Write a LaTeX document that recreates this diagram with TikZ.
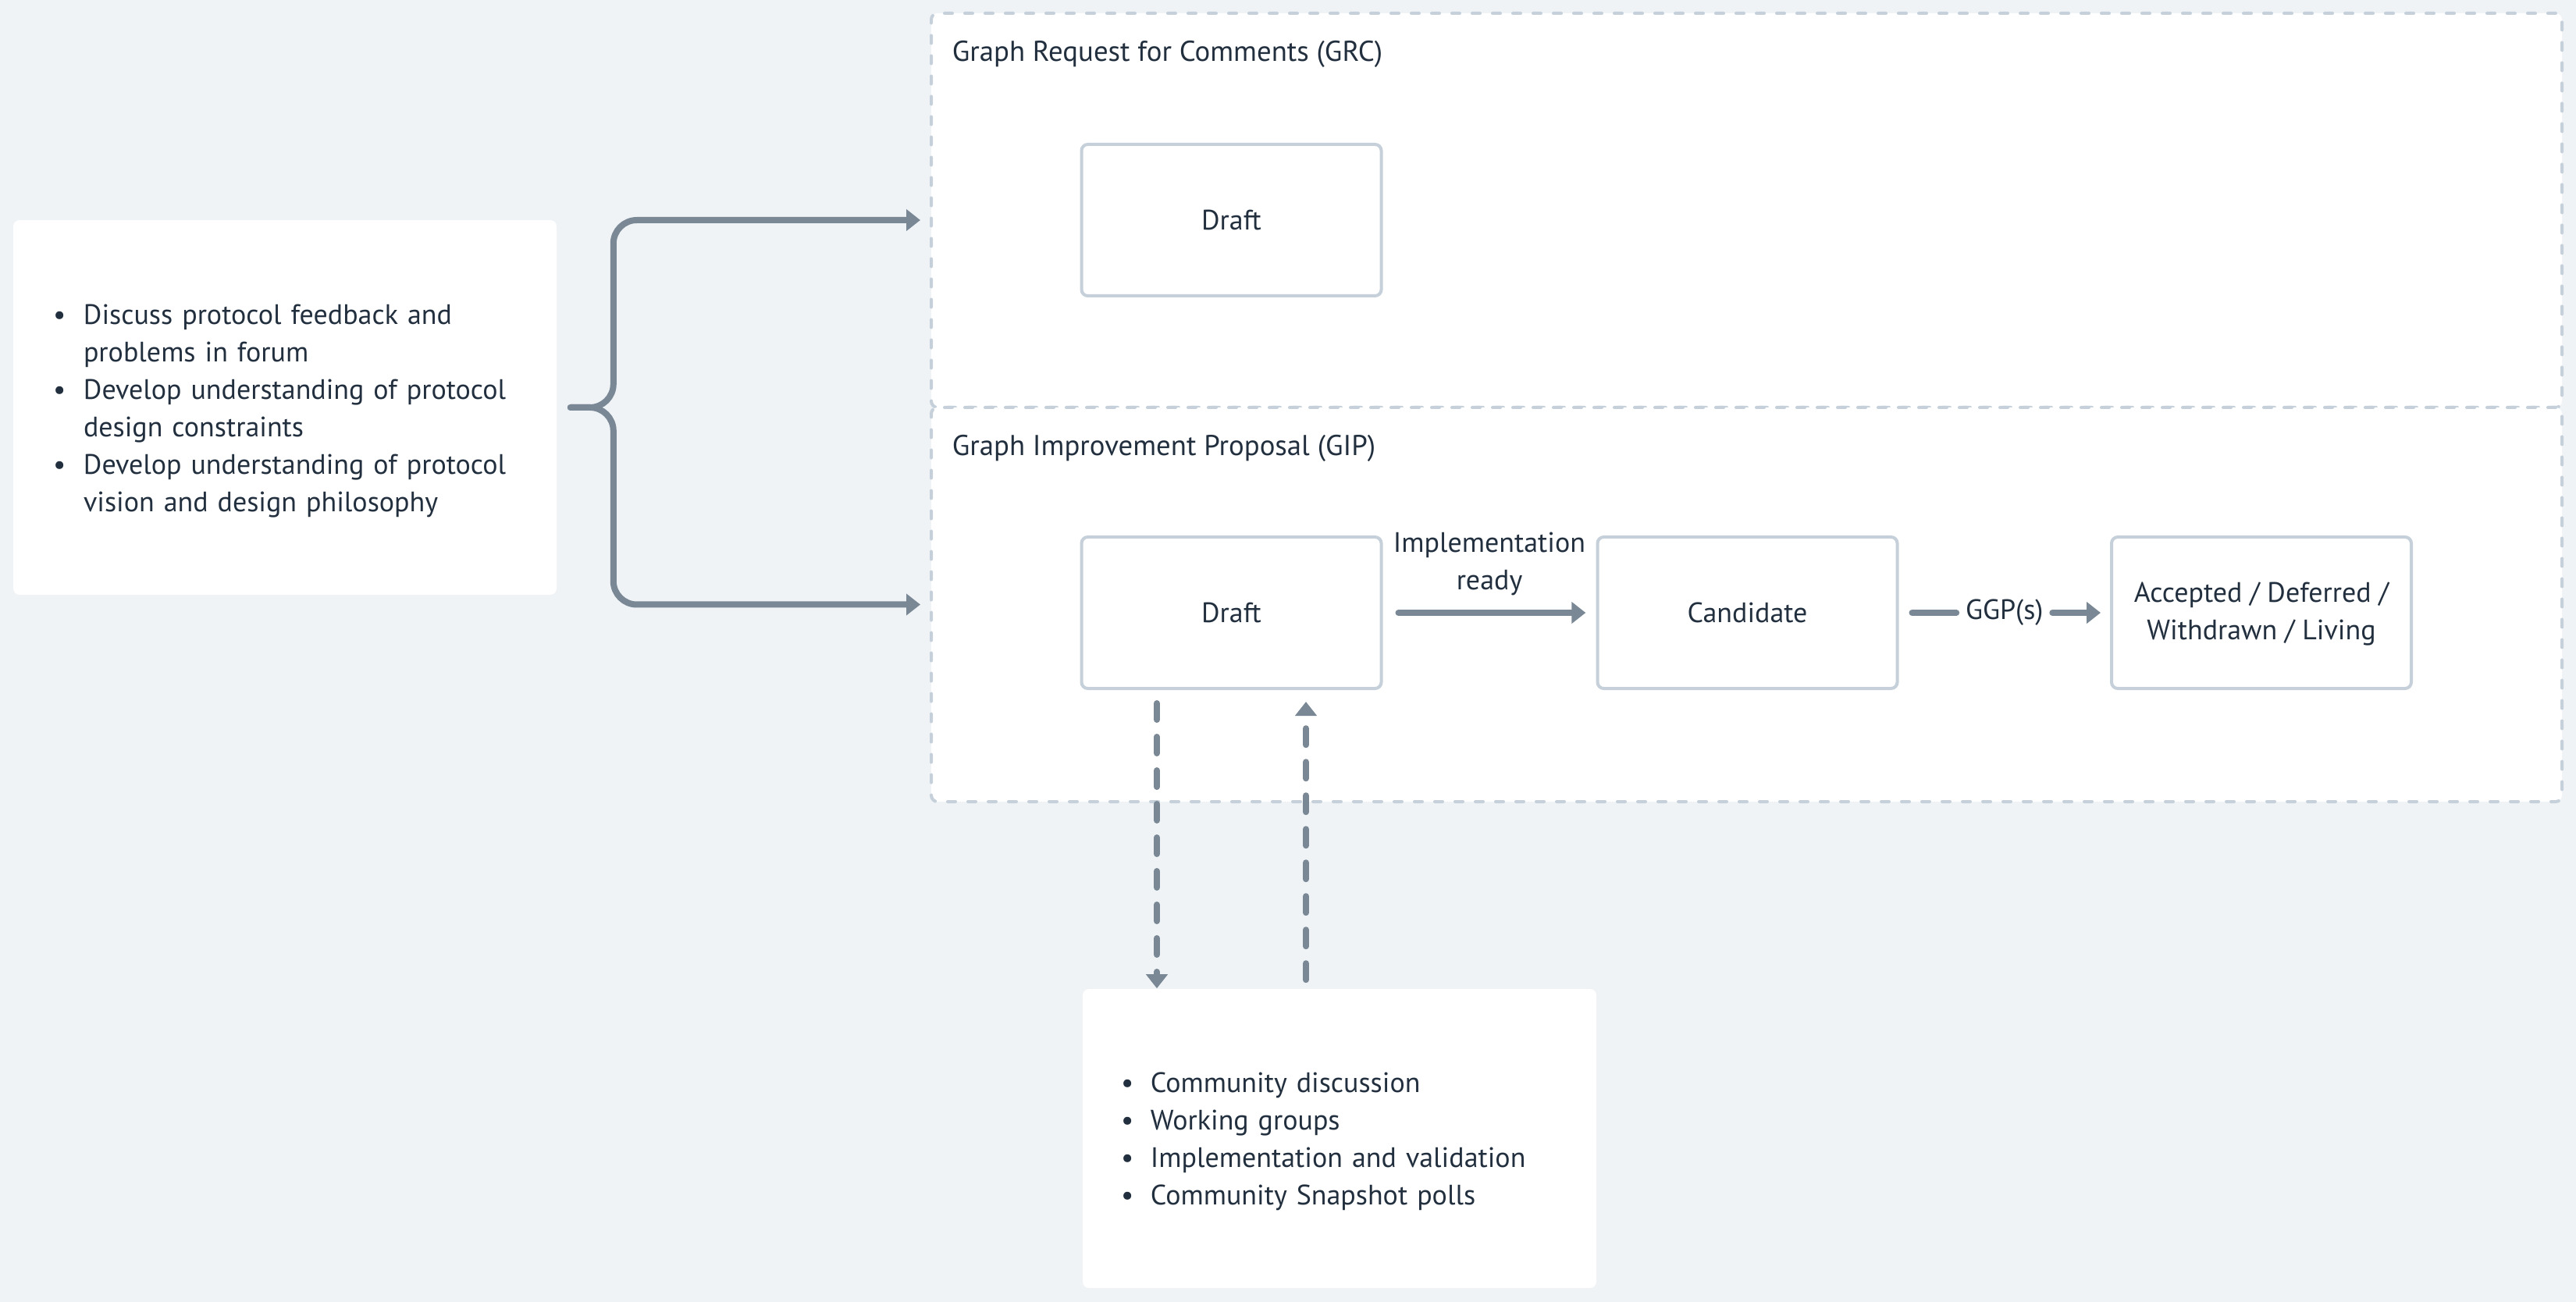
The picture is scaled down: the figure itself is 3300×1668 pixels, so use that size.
\documentclass[tikz,border=0pt]{standalone}
\usepackage{fontspec}
\setmainfont{PT Sans}
\usetikzlibrary{arrows.meta,calc}
\definecolor{bgc}{HTML}{EFF3F6}
\definecolor{bordc}{HTML}{C5D0DA}
\definecolor{arrc}{HTML}{7A8896}
\definecolor{txtc}{HTML}{222F3E}
\begin{document}
\begin{tikzpicture}[x=0.25pt,y=-0.25pt,
  font=\fontsize{9}{12}\selectfont, text=txtc,
  panel/.style={draw=none, fill=white, rounded corners=2pt, align=left, inner ysep=0pt},
  group/.style={draw=bordc, line width=1pt, dash pattern=on 2.5pt off 4pt, line cap=round,
    fill=white, rounded corners=2pt, minimum width=522.25pt, minimum height=126.25pt, inner sep=0pt},
  grptitle/.style={anchor=west, inner sep=0pt, font=\fontsize{9.2}{12}\selectfont},
  state/.style={draw=bordc, line width=1pt, fill=white, rounded corners=2pt,
    minimum width=96pt, minimum height=48.5pt, align=center, inner sep=0pt},
  flowline/.style={draw=arrc, line width=2pt, line cap=round},
  flow/.style={flowline, -{Triangle[length=4.5pt,width=6.75pt]}},
  dflow/.style={flow, dash pattern=on 5.25pt off 5.5pt},
  lbl/.style={align=center, inner sep=0pt}
]
\useasboundingbox (0,0) rectangle (3300,1668);
\fill[bgc] (0,0) rectangle (3300,1668);

% containers
\node[group] (grc) at (2237.5,269.5) {};
\node[group] (gip) at (2237.5,774.5) {};
\node[grptitle] (grct) at (1219,69) {Graph Request for Comments (GRC)};
\node[grptitle] (gipt) at (1219,574) {Graph Improvement Proposal (GIP)};

% left panel
\node[panel, minimum width=174pt, minimum height=120pt, text width=148.5pt, inner xsep=12.75pt] (forum) at (365,522) {%
\raisebox{-1pt}[\height][\depth]{\begin{tabular}{@{}p{9.75pt}@{}l@{}}
\textbullet & Discuss protocol feedback and\\
 & problems in forum\\
\textbullet & Develop understanding of protocol\\
 & design constraints\\
\textbullet & Develop understanding of protocol\\
 & vision and design philosophy
\end{tabular}}};

% bottom panel
\node[panel, minimum width=164.5pt, minimum height=95.75pt, text width=140pt, inner xsep=12.25pt] (community) at (1716,1458.5) {%
\raisebox{-0.75pt}[\height][\depth]{\begin{tabular}{@{}p{9.5pt}@{}l@{}}
\textbullet & Community discussion\\
\textbullet & Working groups\\
\textbullet & Implementation and validation\\
\textbullet & Community Snapshot polls
\end{tabular}}};

% states
\node[state] (grcdraft) at (1577.5,282) {Draft};
\node[state] (gipdraft) at (1577.5,785) {Draft};
\node[state] (candidate) at (2238.5,785) {Candidate};
\node[state] (accepted) at (2897,785) {\rule{0pt}{7pt}Accepted / Deferred /\\Withdrawn / Living};

% brace connector
\coordinate (bs) at ($(forum.east)+(17,0)$);
\coordinate (bt) at ($(grc.west |- grcdraft.center)+(-12,0)$);
\coordinate (bb) at ($(gip.west)+(-12,0)$);
\draw[flow, rounded corners=7.5pt] (bs) -- ++(55,0) |- (bt);
\draw[flow, rounded corners=7.5pt] (bs) -- ++(55,0) |- (bb);

% GIP flow
\draw[flow, shorten <=5pt, shorten >=3.3pt] (gipdraft) -- node[lbl, yshift=15.75pt] (impl) {Implementation\\ready} (candidate);
\node[inner xsep=2.75pt, inner ysep=1pt] (ggp) at ($(candidate.east)!0.5!(accepted.west)$) {GGP(s)};
\draw[flowline, shorten <=4.25pt] (candidate) -- (ggp);
\draw[flow, shorten >=3pt] (ggp) -- (accepted);

% dashed links with community
\coordinate (dl) at ($(gipdraft.south)+(-95.5,0)$);
\coordinate (dr) at ($(gipdraft.south)+(95.5,0)$);
\draw[dflow, shorten <=4.25pt] (dl) -- (dl |- community.north);
\draw[dflow, shorten <=2.75pt, shorten >=3.75pt] (dr |- community.north) -- (dr);
\end{tikzpicture}
\end{document}
